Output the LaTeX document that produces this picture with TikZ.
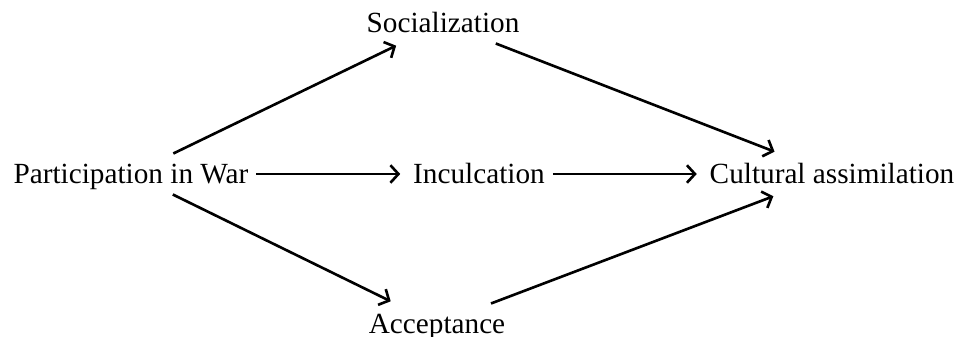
\documentclass[tikz,border=0pt]{standalone}
\usepackage{fontspec}
\setmainfont{Liberation Serif}
\usetikzlibrary{arrows.meta}
\begin{document}
\begin{tikzpicture} [x=0.4pt,y=-0.4pt,font=\fontsize{11.7}{14}\selectfont,
		box/.style={inner sep=3pt,text height=0.9em,text depth=0.1em},
		link/.style={-{Straight Barb[length=3.2pt,width=7pt]},line width=1.05pt,shorten >=2pt}]
		\useasboundingbox (0,0) rectangle (957,337);
		\node [box] (war) at (131,174) {Participation in War};
		\node [box] (social) at (443,23) {Socialization};
		\node [box] (incul) at (479,174) {Inculcation};
		\node [box] (accept) at (437,324) {Acceptance};
		\node [box] (cult) at (832,174) {Cultural assimilation};
		\draw [link] (war) -- (social);
		\draw [link] (war) -- (incul);
		\draw [link] (war) -- (accept);
		\draw [link] (social) -- (cult);
		\draw [link] (incul) -- (cult);
		\draw [link] (accept) -- (cult);
	\end{tikzpicture}
\end{document}
